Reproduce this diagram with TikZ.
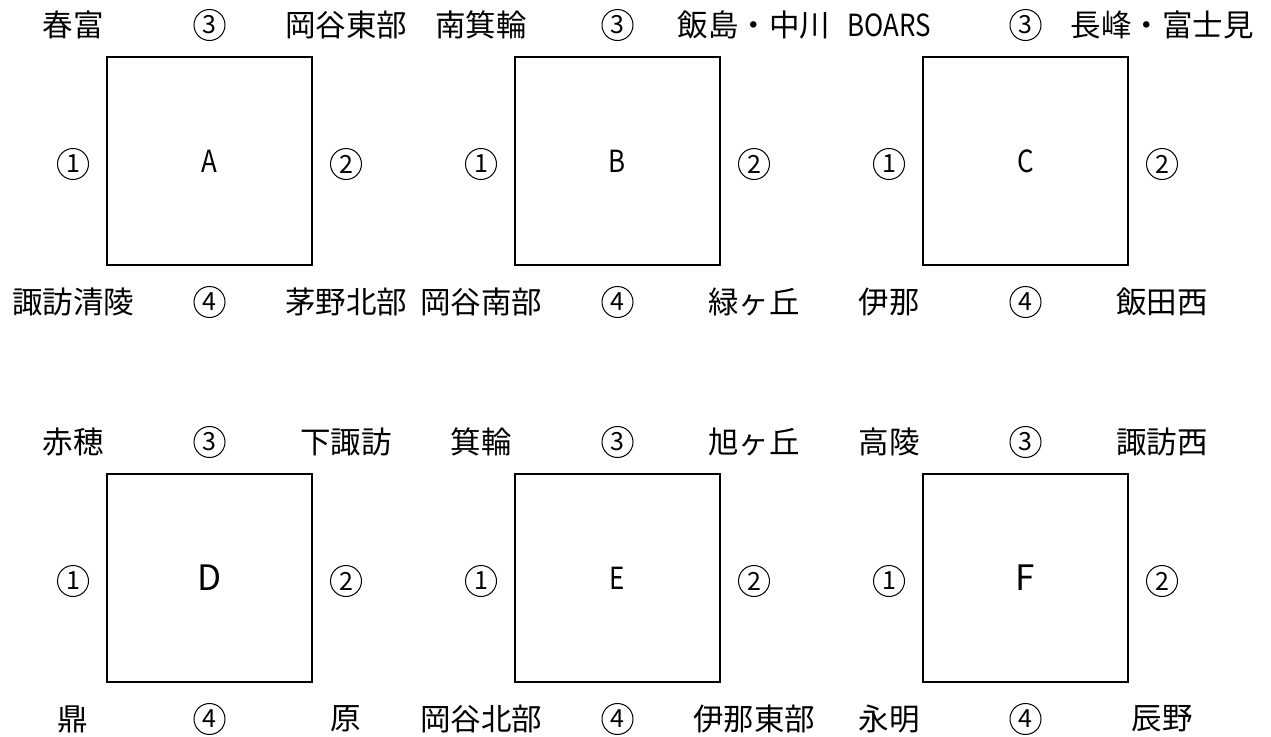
\documentclass[tikz,border=0pt]{standalone}
\usepackage{fontspec}
\setmainfont{Noto Sans CJK JP}
\newfontfamily\narrowfont[FakeStretch=0.85]{Noto Sans CJK JP}

\tikzset{
    team/.style={inner sep=0pt, font=\fontsize{15.25pt}{18pt}\selectfont},
    seat/.style={circle, draw, line width=0.5pt, minimum size=15.5pt, inner sep=0pt, font=\fontsize{12.5pt}{13pt}\selectfont},
    poolbox/.style={draw, line width=0.7pt, minimum width=102.5pt, minimum height=104pt, inner sep=0pt},
}

\begin{document}
\begin{tikzpicture}[x=0.5pt,y=0.5pt]
        \useasboundingbox (0,0) rectangle (1271,736);
        % Draw pools (Boxes) with the four teams round each
        \foreach \pool/\face/\cx/\cy/\tl/\tr/\bl/\br in {
            A/\narrowfont/209.5/575/春富/岡谷東部/諏訪清陵/茅野北部,
            B/\narrowfont/617.5/575/南箕輪/飯島・中川/岡谷南部/緑ヶ丘,
            C/\narrowfont/1025.5/575/{\narrowfont BOARS}/長峰・富士見/伊那/飯田西,
            D/\fontsize{17.5pt}{20pt}\selectfont/209.5/158/赤穂/下諏訪/鼎/原,
            E/\narrowfont/617.5/158/箕輪/旭ヶ丘/岡谷北部/伊那東部,
            F/\fontsize{17.5pt}{20pt}\selectfont/1025.5/158/高陵/諏訪西/永明/辰野}{
            \node[poolbox, team] (\pool) at (\cx,\cy) {\face\pool};
            % Top row
            \node[team] (\pool-tl) at (\cx-136.5,\cy+136) {\tl};
            \node[seat] (\pool-3) at (\cx,\cy+136) {3};
            \node[team] (\pool-tr) at (\cx+136.5,\cy+136) {\tr};
            % Sides
            \node[seat] (\pool-1) at (\cx-136.5,\cy-3) {1};
            \node[seat] (\pool-2) at (\cx+136.5,\cy-3) {2};
            % Bottom row
            \node[team] (\pool-bl) at (\cx-136.5,\cy-141) {\bl};
            \node[seat] (\pool-4) at (\cx,\cy-141) {4};
            \node[team] (\pool-br) at (\cx+136.5,\cy-141) {\br};
        }
    \end{tikzpicture}
\end{document}
